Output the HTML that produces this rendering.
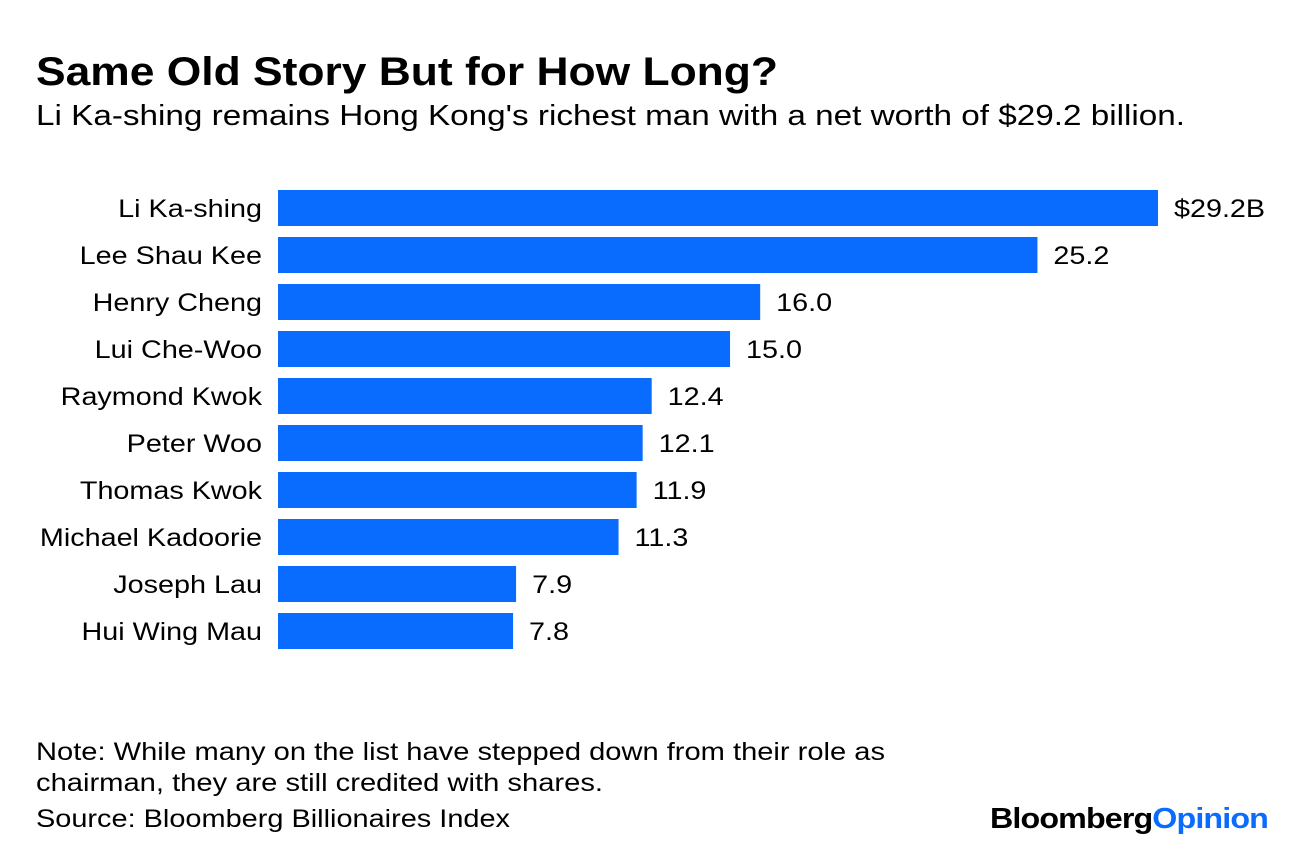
<!DOCTYPE html>
<html><head><meta charset="utf-8"><style>
body{margin:0;background:#fff;width:1296px;height:850px;overflow:hidden;font-family:"Liberation Sans",Arial,sans-serif;color:#000}
</style></head><body>
<svg width="1296" height="850">
<text x="36" y="85" font-size="40" font-weight="bold" textLength="742" lengthAdjust="spacingAndGlyphs">Same Old Story But for How Long?</text>
<text x="36" y="125" font-size="29" textLength="1149" lengthAdjust="spacingAndGlyphs">Li Ka-shing remains Hong Kong's richest man with a net worth of $29.2 billion.</text>
<g id="bars"></g>
<text x="36" y="760" font-size="25" textLength="849" lengthAdjust="spacingAndGlyphs">Note: While many on the list have stepped down from their role as</text>
<text x="36" y="791" font-size="25" textLength="567" lengthAdjust="spacingAndGlyphs">chairman, they are still credited with shares.</text>
<text x="36" y="827" font-size="25" textLength="474" lengthAdjust="spacingAndGlyphs">Source: Bloomberg Billionaires Index</text>
<text x="990" y="828" font-size="29" font-weight="bold" textLength="278" lengthAdjust="spacingAndGlyphs" letter-spacing="-0.8">Bloomberg<tspan fill="#0a6cff">Opinion</tspan></text>
</svg>
<script>
const names=["Li Ka-shing","Lee Shau Kee","Henry Cheng","Lui Che-Woo","Raymond Kwok","Peter Woo","Thomas Kwok","Michael Kadoorie","Joseph Lau","Hui Wing Mau"];
const values=[29.2,25.2,16.0,15.0,12.4,12.1,11.9,11.3,7.9,7.8];
const valueLabels=["$29.2B","25.2","16.0","15.0","12.4","12.1","11.9","11.3","7.9","7.8"];
const ns="http://www.w3.org/2000/svg";
const x0=278, pxPer=(1158-278)/29.2;
const xs=v=>x0+v*pxPer;
const ys=i=>190+i*47;
const g=document.getElementById('bars');
function widen(t){const w=t.getComputedTextLength();t.setAttribute('textLength',(w*1.15).toFixed(1));t.setAttribute('lengthAdjust','spacingAndGlyphs');}
names.forEach((n,i)=>{
  const r=document.createElementNS(ns,'rect');
  r.setAttribute('x',x0);r.setAttribute('y',ys(i));
  r.setAttribute('width',xs(values[i])-x0);r.setAttribute('height',36);
  r.setAttribute('fill','#0a6cff');
  
  
  g.appendChild(r);
  const t=document.createElementNS(ns,'text');
  t.setAttribute('x',262);t.setAttribute('y',ys(i)+27);
  t.setAttribute('text-anchor','end');t.setAttribute('font-size','25');
  t.textContent=n;
  
  
  g.appendChild(t);widen(t);
  const v=document.createElementNS(ns,'text');
  v.setAttribute('x',xs(values[i])+16);v.setAttribute('y',ys(i)+27);
  v.setAttribute('font-size','25');
  v.textContent=valueLabels[i];
  
  
  g.appendChild(v);widen(v);
});
</script>
</body></html>
